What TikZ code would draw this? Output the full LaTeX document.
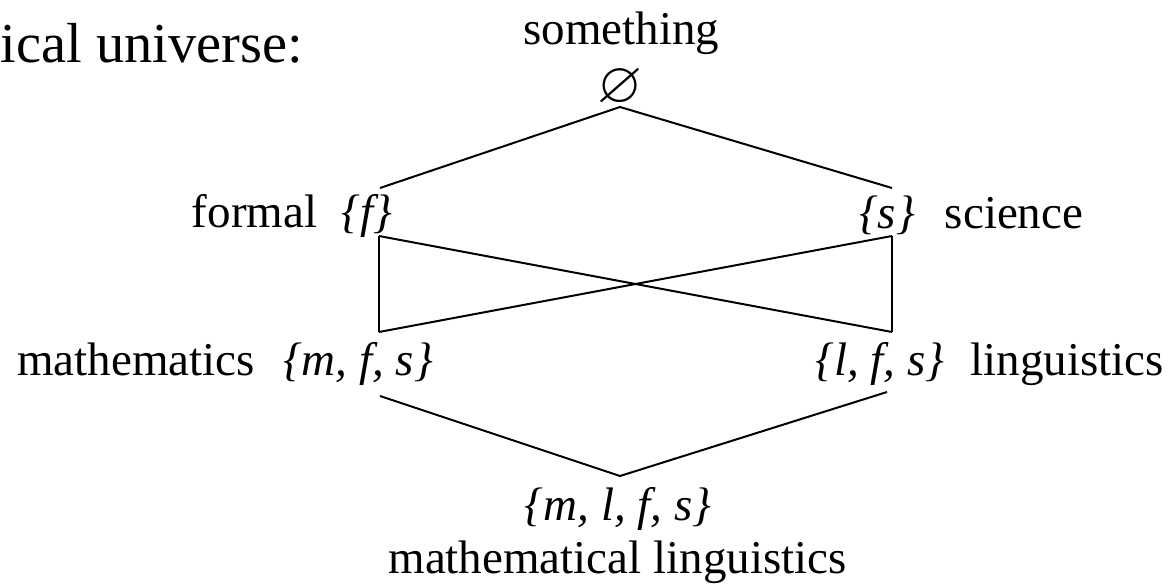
\documentclass[tikz,border=0pt]{standalone}
\usepackage{amssymb}
\usepackage{fontspec}
\setmainfont{Liberation Serif}
\usetikzlibrary{positioning}

\begin{document}
\begin{tikzpicture}[
    x=0.5pt, y=-0.5pt,
    font=\fontsize{23.5}{28}\selectfont,
    line width=1pt,
    lbl/.style={inner sep=0pt, anchor=base},
    setn/.style={inner sep=0pt, anchor=base, font=\fontsize{23.5}{28}\selectfont\itshape},
    edge/.style={line width=1pt}
  ]
\useasboundingbox (0,0) rectangle (1171,587);

% =================== heading (cut off at the left) ===================
\node[lbl, anchor=base west, font=\fontsize{28.2}{34}\selectfont] (title) at (0,63) {ical universe:};

% =================== top: the empty set ===================
\node[lbl] (something) at (621.5,45) {something};
\node[inner sep=0pt, font=\fontsize{29}{32}\selectfont] (empty) at (620,88) {$\varnothing$};

% =================== second row ===================
\node[setn] (f) at (367,228) {\{f\}};
\node[lbl] (formal) at (254.5,228) {formal};
\node[setn] (s) at (887,229) {\{s\}};
\node[lbl] (science) at (1014,229) {science};

% =================== third row ===================
\node[setn] (mfs) at (358,375) {\{m, f, s\}};
\node[lbl] (maths) at (136,375) {mathematics};
\node[setn] (lfs) at (880,375) {\{l, f, s\}};
\node[lbl] (ling) at (1067,375) {linguistics};

% =================== bottom ===================
\node[setn] (mlfs) at (618,520) {\{m, l, f, s\}};
\node[lbl] (mathling) at (617.5,573) {mathematical linguistics};

% =================== lattice lines ===================
\draw[edge] ([shift={(13,-40)}]f.base) -- ([shift={(0,19)}]empty.center)
            -- ([shift={(5,-41)}]s.base);
\draw[edge] ([shift={(12,8)}]f.base) -- ([shift={(21,-43)}]mfs.base);
\draw[edge] ([shift={(12,8)}]f.base) -- ([shift={(12,-43)}]lfs.base);
\draw[edge] ([shift={(5,7)}]s.base) -- ([shift={(21,-43)}]mfs.base);
\draw[edge] ([shift={(5,7)}]s.base) -- ([shift={(12,-43)}]lfs.base);
\draw[edge] ([shift={(22,21)}]mfs.base) -- ([shift={(2,-44)}]mlfs.base)
            -- ([shift={(7,17)}]lfs.base);

\end{tikzpicture}
\end{document}
